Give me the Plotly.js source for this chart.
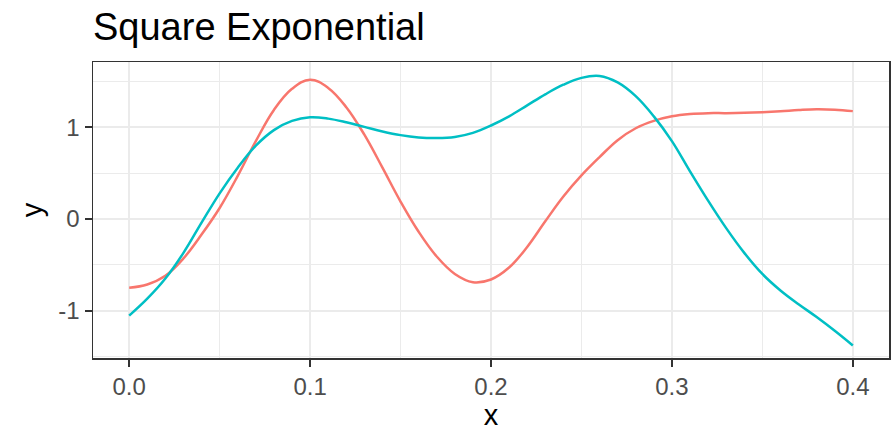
<!DOCTYPE html>
<html>
<head>
<meta charset="utf-8">
<script src="https://cdn.plot.ly/plotly-3.0.1.min.js"></script>
<style>html,body{margin:0;padding:0;background:#fff;}#chart{width:896px;height:431px;}</style>
</head>
<body>
<div id="chart"></div>
<script>
const xValues = [0.00,0.01,0.02,0.03,0.04,0.05,0.06,0.07,0.08,0.09,0.10,0.11,0.12,0.13,0.14,0.15,0.16,0.17,0.18,0.19,0.20,0.21,0.22,0.23,0.24,0.25,0.26,0.27,0.28,0.29,0.30,0.31,0.32,0.33,0.34,0.35,0.36,0.37,0.38,0.39,0.40];
const redSeries = [-0.75,-0.715,-0.62,-0.43,-0.17,0.12,0.47,0.85,1.19,1.42,1.52,1.43,1.22,0.92,0.56,0.19,-0.14,-0.41,-0.60,-0.69,-0.66,-0.53,-0.305,-0.025,0.245,0.475,0.675,0.86,0.99,1.07,1.12,1.145,1.155,1.155,1.158,1.165,1.175,1.188,1.197,1.192,1.177];
const cyanSeries = [-1.055,-0.87,-0.65,-0.37,-0.04,0.28,0.56,0.80,0.97,1.07,1.11,1.095,1.055,1.005,0.955,0.915,0.89,0.883,0.895,0.94,1.02,1.12,1.24,1.36,1.465,1.54,1.56,1.49,1.34,1.12,0.85,0.52,0.20,-0.10,-0.37,-0.60,-0.78,-0.93,-1.07,-1.22,-1.38];
const xTickVals = [0, 0.1, 0.2, 0.3, 0.4];
const xTickText = ['0.0', '0.1', '0.2', '0.3', '0.4'];
const yTickVals = [-1, 0, 1];
const yTickText = ['-1', '0', '1'];

const FONT = '"Liberation Sans", Arial, Helvetica, sans-serif';
const traces = [
  {x: xValues, y: redSeries, mode: 'lines', line: {color: '#F8766D', width: 2.5, shape: 'spline', smoothing: 1.1}, hoverinfo: 'skip'},
  {x: xValues, y: cyanSeries, mode: 'lines', line: {color: '#00BFC4', width: 2.5, shape: 'spline', smoothing: 1.1}, hoverinfo: 'skip'}
];
const axisCommon = {
  showline: true, mirror: true, linecolor: '#333333', linewidth: 1.5,
  ticks: 'outside', ticklen: 7, tickwidth: 2, tickcolor: '#333333',
  tickfont: {family: FONT, size: 24, color: '#4D4D4D'},
  showgrid: true, gridcolor: '#EBEBEB', gridwidth: 2, zeroline: false,
  automargin: false
};
const layout = {
  width: 896, height: 431,
  margin: {l: 93, r: 7, t: 62, b: 73},
  paper_bgcolor: '#FFFFFF', plot_bgcolor: '#FFFFFF',
  showlegend: false,
  font: {family: FONT},
  title: {text: 'Square Exponential', font: {family: FONT, size: 38, color: '#000000'},
          x: 0, xref: 'paper', xanchor: 'left', y: 0.968, yref: 'container', yanchor: 'top'},
  xaxis: Object.assign({}, axisCommon, {
    range: [-0.02, 0.42], tickvals: xTickVals, ticktext: xTickText,
    minor: {dtick: 0.05, tick0: 0, showgrid: true, gridcolor: '#EBEBEB', gridwidth: 1, ticks: ''},
    title: {text: 'x', font: {family: FONT, size: 29, color: '#000000'}, standoff: 9}
  }),
  yaxis: Object.assign({}, axisCommon, {
    range: [-1.517, 1.713], tickvals: yTickVals, ticktext: yTickText,
    minor: {dtick: 0.5, tick0: 0, showgrid: true, gridcolor: '#EBEBEB', gridwidth: 1, ticks: ''},
    title: {text: 'y', font: {family: FONT, size: 29, color: '#000000'}, standoff: 7}
  })
};
Plotly.newPlot('chart', traces, layout, {displayModeBar: false, staticPlot: true});
</script>
</body>
</html>
